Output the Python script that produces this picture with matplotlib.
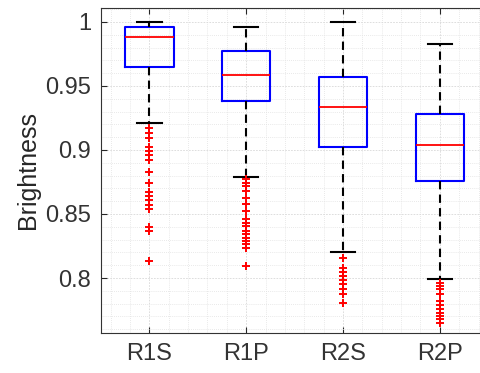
import matplotlib
matplotlib.use("Agg")
import matplotlib.pyplot as plt
from matplotlib.ticker import MultipleLocator

plt.rcParams['font.family'] = ['Liberation Sans', 'DejaVu Sans']

# groups and box statistics
labels = ['R1S', 'R1P', 'R2S', 'R2P']
medians = [0.9883, 0.9583, 0.9336, 0.9037]
q1s = [0.9648, 0.9383, 0.9023, 0.8758]
q3s = [0.9964, 0.9773, 0.9570, 0.9279]
whis_lo = [0.9214, 0.8790, 0.8204, 0.7996]
whis_hi = [1.0000, 0.9961, 1.0000, 0.9826]

# outliers
out_r1s = [0.9175, 0.9136, 0.9097, 0.9027, 0.8992, 0.8959, 0.8920, 0.8831,
           0.8745, 0.8675, 0.8641, 0.8607, 0.8570, 0.8537, 0.8398, 0.8367, 0.8133]
out_r1p = [0.8771, 0.8745, 0.8719, 0.8680, 0.8628, 0.8576, 0.8523, 0.8459,
           0.8433, 0.8406, 0.8367, 0.8341, 0.8316, 0.8289, 0.8263, 0.8237, 0.8094]
out_r2s = [0.8159, 0.8081, 0.8050, 0.8016, 0.7982, 0.7951, 0.7917, 0.7878, 0.7802]
out_r2p = [0.7964, 0.7938, 0.7912, 0.7873, 0.7820, 0.7787, 0.7755, 0.7729,
           0.7703, 0.7677, 0.7652]
outliers = [out_r1s, out_r1p, out_r2s, out_r2p]

stats = []
for i in range(len(labels)):
    stats.append({'label': labels[i], 'med': medians[i], 'q1': q1s[i], 'q3': q3s[i],
                  'whislo': whis_lo[i], 'whishi': whis_hi[i], 'fliers': outliers[i]})

fig = plt.figure(figsize=(4.81, 3.73), dpi=100)
ax = fig.add_axes([0.21, 0.107, 0.805, 0.872])

ax.bxp(stats, positions=[1, 2, 3, 4], widths=0.5, showfliers=True,
       boxprops=dict(color='#0000ff', linewidth=1.5),
       medianprops=dict(color='#ff0000', linewidth=1.3),
       whiskerprops=dict(color='black', linewidth=1.5, linestyle=(0, (4, 2.5))),
       capprops=dict(color='black', linewidth=1.5),
       capwidths=0.25,
       flierprops=dict(marker='+', markeredgecolor='#ff0000', markersize=6,
                       markeredgewidth=1.4, linestyle='none'))

ax.set_xlim(0.5, 4.5)
ax.set_ylim(0.757, 1.011)
ax.set_yticks([0.8, 0.85, 0.9, 0.95, 1.0])
ax.set_yticklabels(['0.8', '0.85', '0.9', '0.95', '1'])
ax.yaxis.set_minor_locator(MultipleLocator(0.01))
ax.xaxis.set_minor_locator(MultipleLocator(0.2))

ax.grid(True, which='major', color='#d8d8d8', linewidth=0.6, linestyle=(0, (2, 1.5)))
ax.grid(True, which='minor', color='#e2e2e2', linewidth=0.6, linestyle=(0, (1, 1.5)))
ax.set_axisbelow(True)

ax.tick_params(which='major', direction='in', length=4, width=0.8, color='#262626',
               labelsize=17, labelcolor='#333333', top=True, right=True, pad=7)
ax.tick_params(which='minor', length=0, top=True, right=True)
for s in ax.spines.values():
    s.set_color('#333333')
    s.set_linewidth(0.8)

ax.set_ylabel('Brightness', fontsize=18, color='#262626', labelpad=4)

fig.savefig('out.png', dpi=100)
